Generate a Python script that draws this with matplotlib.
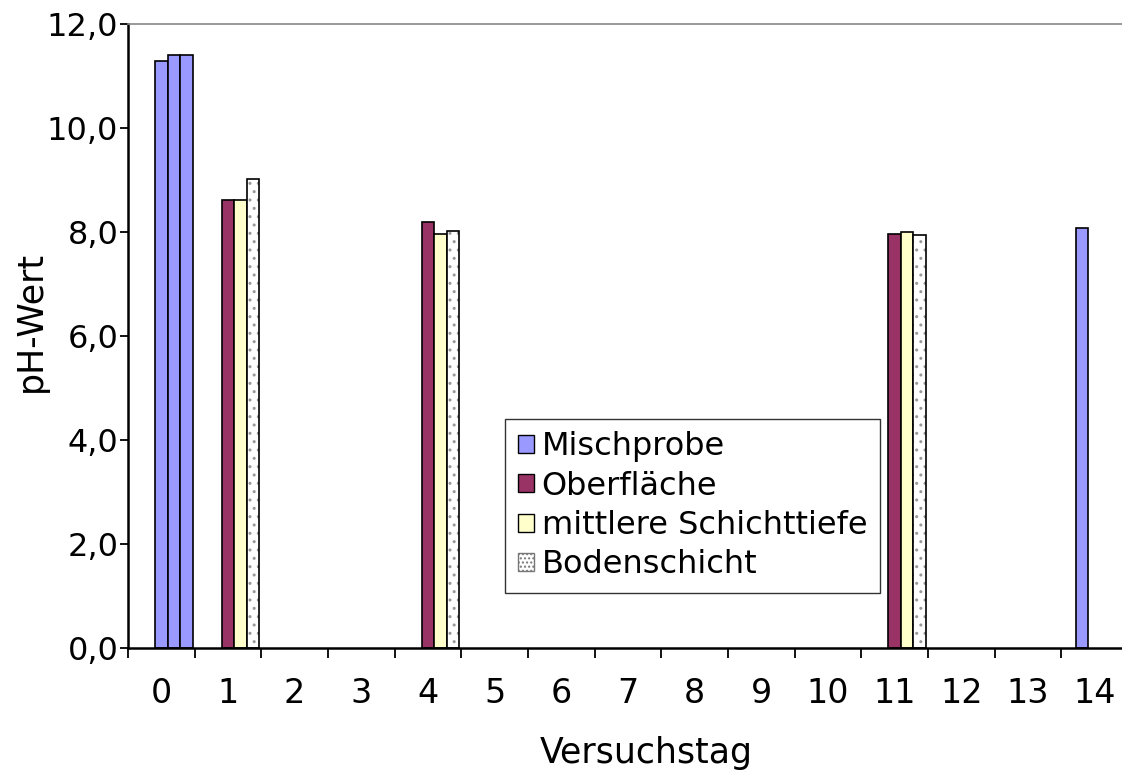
import numpy as np
import matplotlib
matplotlib.use("Agg")
import matplotlib.pyplot as plt
from matplotlib.patches import Patch
from matplotlib.ticker import FuncFormatter, MultipleLocator

# Versuchstage und pH-Werte
tage = list(range(15))
nan = np.nan
mischprobe = [nan, nan, nan, nan, nan, nan, nan, nan, nan, nan, nan, nan, nan, nan, 8.08]
oberflaeche = [11.29, 8.62, nan, nan, 8.20, nan, nan, nan, nan, nan, nan, 7.97, nan, nan, nan]
mittlere = [11.40, 8.62, nan, nan, 7.96, nan, nan, nan, nan, nan, nan, 8.00, nan, nan, nan]
boden = [11.40, 9.02, nan, nan, 8.02, nan, nan, nan, nan, nan, nan, 7.95, nan, nan, nan]
namen = ["Mischprobe", "Oberfläche", "mittlere Schichttiefe", "Bodenschicht"]
# Tag 0: Ausgangsmaterial, als Mischprobe eingefärbt
misch_tage = [0]

c_misch = "#9999FF"
c_ober = "#993366"
c_mitt = "#FFFFCC"

fig = plt.figure(figsize=(11.22, 7.78), dpi=100)
ax = fig.add_axes([128 / 1122, 1 - 648 / 778, 1000 / 1122, 624 / 778])

w = 0.1875
serien = [mischprobe, oberflaeche, mittlere, boden]
farben = [c_misch, c_ober, c_mitt, "white"]

for i, werte in enumerate(serien):
    for t, v in zip(tage, werte):
        if np.isnan(v):
            continue
        p = t + (i - 1.5) * w
        if t in misch_tage:
            ax.bar(p, v, w, align="edge", color=c_misch, edgecolor="black", linewidth=1.2)
        elif i == 3:
            # Punktmuster in grau, Rand schwarz
            ax.bar(p, v, w, align="edge", color="white", edgecolor="#999999",
                   hatch="..", linewidth=0)
            ax.bar(p, v, w, align="edge", fill=False, edgecolor="black", linewidth=1.2)
        else:
            ax.bar(p, v, w, align="edge", color=farben[i], edgecolor="black", linewidth=1.2)

ax.set_xlim(-0.5, 14.5)
ax.set_ylim(0, 12)
ax.yaxis.set_major_locator(MultipleLocator(2))
ax.yaxis.set_major_formatter(FuncFormatter(lambda v, p: f"{v:.1f}".replace(".", ",")))

ax.set_xticks(tage)
ax.set_xticklabels([str(t) for t in tage])
ax.set_xticks(np.arange(-0.5, 15, 1.0), minor=True)
ax.tick_params(axis="x", which="major", length=0, pad=21, labelsize=24)
ax.tick_params(axis="x", which="minor", length=7, width=1.3, direction="out")
ax.tick_params(axis="y", length=6, width=1.3, direction="out", labelsize=23, pad=1)

ax.spines["right"].set_visible(False)
ax.spines["top"].set_color("#888888")
ax.spines["top"].set_linewidth(1.2)
ax.spines["left"].set_linewidth(1.8)
ax.spines["bottom"].set_linewidth(1.8)

ax.set_xlabel("Versuchstag", fontsize=25)
ax.xaxis.set_label_coords(0.518, -0.141)
ax.set_ylabel("pH-Wert", fontsize=25)
ax.yaxis.set_label_coords(-0.080, 0.523)

handles = [
    Patch(facecolor=c_misch, edgecolor="black", linewidth=1),
    Patch(facecolor=c_ober, edgecolor="black", linewidth=1),
    Patch(facecolor=c_mitt, edgecolor="black", linewidth=1),
    Patch(facecolor="white", edgecolor="#777777", hatch="....", linewidth=1),
]
leg = ax.legend(handles, namen, loc="lower left", bbox_to_anchor=(0.377, 0.088),
                fontsize=23, frameon=True, fancybox=False, handlelength=0.5,
                handleheight=0.5, handletextpad=0.25, labelspacing=0.26,
                borderpad=0.4, borderaxespad=0)
leg.get_frame().set_edgecolor("black")
leg.get_frame().set_linewidth(1.0)

fig.savefig("out.png", dpi=100)
